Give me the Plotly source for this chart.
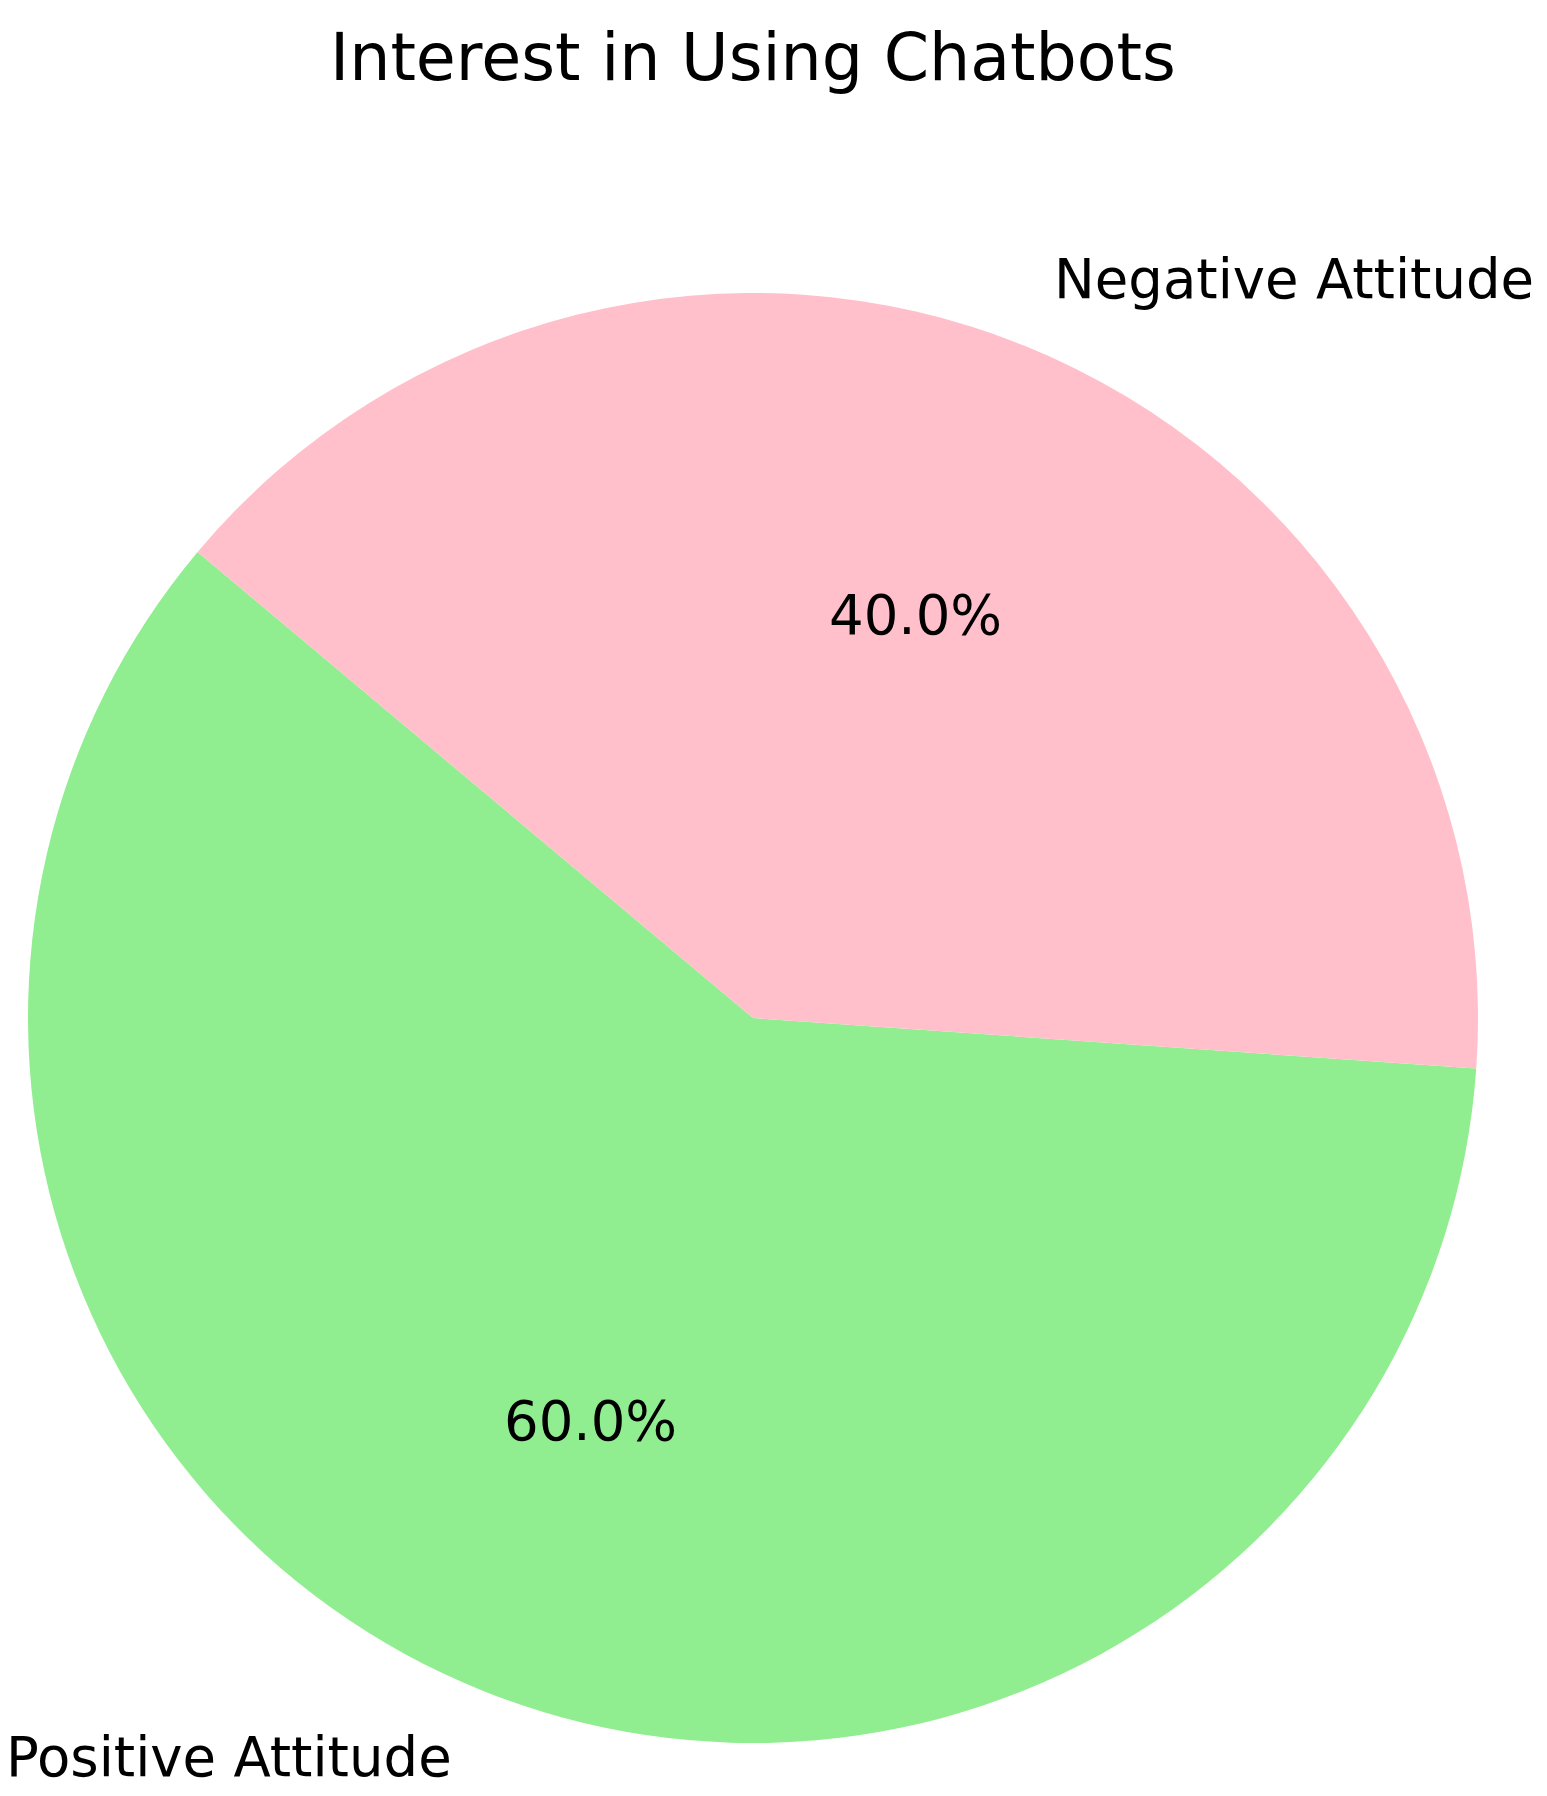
import math
import plotly.graph_objects as go

# ---- data ----
labels = ["Positive Attitude", "Negative Attitude"]
values = [60, 40]
colors = ["#90EE90", "#FFC0CB"]
title_text = "Interest in Using Chatbots"
start_angle = 140  # degrees, counter-clockwise from 3 o'clock (matplotlib style)

# ---- layout constants (pixels) ----
W, H = 1547, 1796
CX, CY, R = 753, 1018, 725
LABEL_DIST = 1.1
PCT_DIST = 0.6
FONT = "DejaVu Sans"

total = sum(values)
# plotly (counterclockwise): first slice ends at `rotation` (clockwise from 12 o'clock)
rotation = 90 - start_angle - 360.0 * values[0] / total

fig = go.Figure()
fig.add_trace(go.Pie(
    labels=labels,
    values=values,
    marker=dict(colors=colors, line=dict(width=0)),
    sort=False,
    direction="counterclockwise",
    rotation=rotation,
    textinfo="none",
    hoverinfo="label+percent",
    showlegend=False,
    domain=dict(x=[(CX - R) / W, (CX + R) / W], y=[1 - (CY + R) / H, 1 - (CY - R) / H]),
))

annotations = []
ang = start_angle
for lab, v in zip(labels, values):
    span = 360.0 * v / total
    mid = math.radians(ang + span / 2)
    ang += span
    c, s = math.cos(mid), math.sin(mid)
    # outer label
    lx = (CX + R * LABEL_DIST * c) / W
    ly = 1 - (CY - R * LABEL_DIST * s) / H
    annotations.append(dict(
        x=lx, y=ly, xref="paper", yref="paper", text=lab, showarrow=False,
        xanchor="left" if c > 0 else "right", yanchor="middle",
        font=dict(family=FONT, size=54.5, color="black"),
    ))
    # percent label
    px = (CX + R * PCT_DIST * c) / W
    py = 1 - (CY - R * PCT_DIST * s) / H
    annotations.append(dict(
        x=px, y=py, xref="paper", yref="paper", text=f"{100.0 * v / total:.1f}%",
        showarrow=False, xanchor="center", yanchor="middle",
        font=dict(family=FONT, size=54.5, color="black"),
    ))

fig.update_layout(
    width=W, height=H,
    margin=dict(l=0, r=0, t=0, b=0),
    paper_bgcolor="white", plot_bgcolor="white",
    title=dict(text=title_text, x=CX / W, xanchor="center", y=1 - 57 / H, yanchor="middle",
               font=dict(family=FONT, size=65, color="black")),
    annotations=annotations,
)

fig.write_html("out.html", config={"displayModeBar": False},
               post_script="document.body.style.margin='0';document.body.style.overflow='hidden';")
